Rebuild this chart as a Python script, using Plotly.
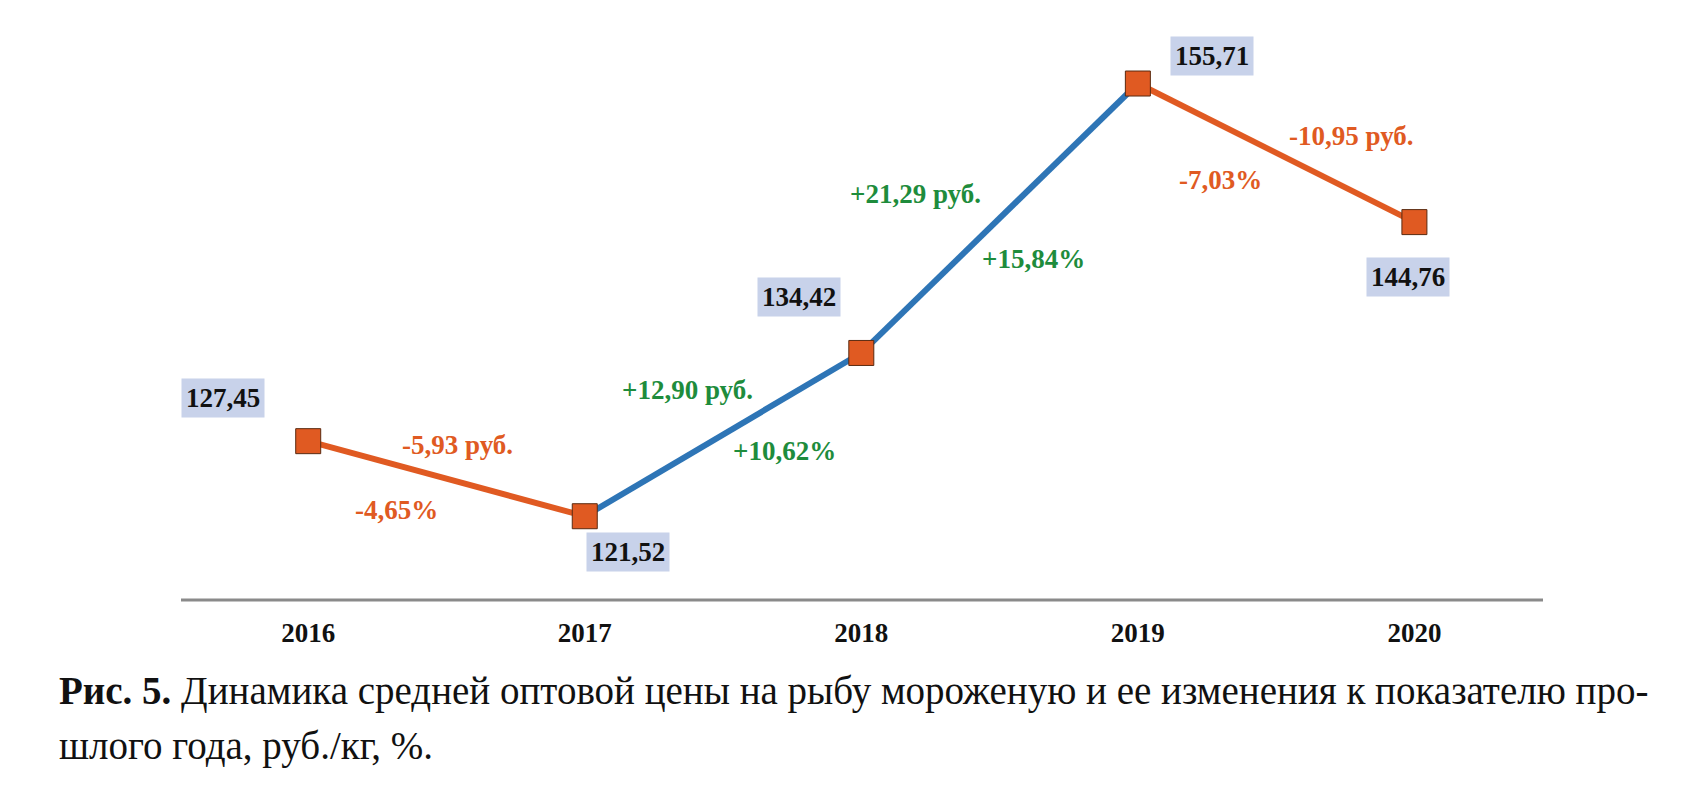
import plotly.graph_objects as go

years = ["2016", "2017", "2018", "2019", "2020"]
prices = [127.45, 121.52, 134.42, 155.71, 144.76]
value_labels = ["127,45", "121,52", "134,42", "155,71", "144,76"]
rub_labels = ["-5,93 руб.", "+12,90 руб.", "+21,29 руб.", "-10,95 руб."]
pct_labels = ["-4,65%", "+10,62%", "+15,84%", "-7,03%"]

ORANGE = "#e05a22"
BLUE = "#2e75b6"
GREEN = "#1e8c3c"
FONT = "Liberation Serif"

L, R, T, B = 173, 170, 33, 198
PW, PH = 1705 - L - R, 790 - T - B

fig = go.Figure()
xs = list(range(len(years)))
for i in range(len(years) - 1):
    up = prices[i + 1] > prices[i]
    fig.add_trace(go.Scatter(x=[xs[i], xs[i + 1]], y=[prices[i], prices[i + 1]], mode="lines",
                             line=dict(color=BLUE if up else ORANGE, width=6), hoverinfo="skip"))
fig.add_trace(go.Scatter(x=xs, y=prices, mode="markers",
                         marker=dict(symbol="square", size=25, color=ORANGE,
                                     line=dict(color="#5a2a10", width=1))))

val_shift = [(-85, 43), (43, -36), (-62, 56), (74, 28), (-6, -55)]
for i, (dx, dy) in enumerate(val_shift):
    fig.add_annotation(x=xs[i], y=prices[i], text="<b>" + value_labels[i] + "</b>", showarrow=False,
                       xshift=dx, yshift=dy, bgcolor="#c8d2ea", borderpad=4,
                       font=dict(family=FONT, size=27, color="#111"))

rub_shift = [(11, 34), (-36, 45), (-84, 24), (75, 17)]
pct_shift = [(-50, -31), (61, -16), (34, -41), (-56, -27)]
for i in range(4):
    mx = xs[i] + 0.5
    my = (prices[i] + prices[i + 1]) / 2
    col = GREEN if prices[i + 1] > prices[i] else ORANGE
    fig.add_annotation(x=mx, y=my, text="<b>" + rub_labels[i] + "</b>", showarrow=False,
                       xshift=rub_shift[i][0], yshift=rub_shift[i][1],
                       font=dict(family=FONT, size=27, color=col))
    fig.add_annotation(x=mx, y=my, text="<b>" + pct_labels[i] + "</b>", showarrow=False,
                       xshift=pct_shift[i][0], yshift=pct_shift[i][1],
                       font=dict(family=FONT, size=27, color=col))

fig.add_annotation(xref="paper", yref="paper", x=(49 - L) / PW, y=-(683 - (790 - B)) / PH,
                   xanchor="left", yanchor="middle", showarrow=False, align="left",
                   text="<b>Рис. 5.</b> Динамика средней оптовой цены на рыбу мороженую и ее изменения к показателю про-",
                   font=dict(family=FONT, size=39, color="#111"))
fig.add_annotation(xref="paper", yref="paper", x=(49 - L) / PW, y=-(738 - (790 - B)) / PH,
                   xanchor="left", yanchor="middle", showarrow=False, align="left",
                   text="шлого года, руб./кг, %.",
                   font=dict(family=FONT, size=39, color="#111"))

fig.update_xaxes(range=[-0.46, 4.465], tickvals=xs, ticktext=["<b>%s</b>" % y for y in years],
                 showgrid=False, zeroline=False, showline=False, ticks="",
                 tickfont=dict(family=FONT, size=27, color="#111"), ticklabelstandoff=14)
fig.update_yaxes(range=[114.9, 159.07], visible=False)
fig.add_shape(type="line", xref="paper", yref="paper", x0=0, x1=1, y0=0, y1=0,
              line=dict(color="#8a8a8a", width=3))
fig.update_layout(width=1705, height=790, showlegend=False, plot_bgcolor="white",
                  paper_bgcolor="white", margin=dict(l=L, r=R, t=T, b=B))
fig.write_html("out.html")
